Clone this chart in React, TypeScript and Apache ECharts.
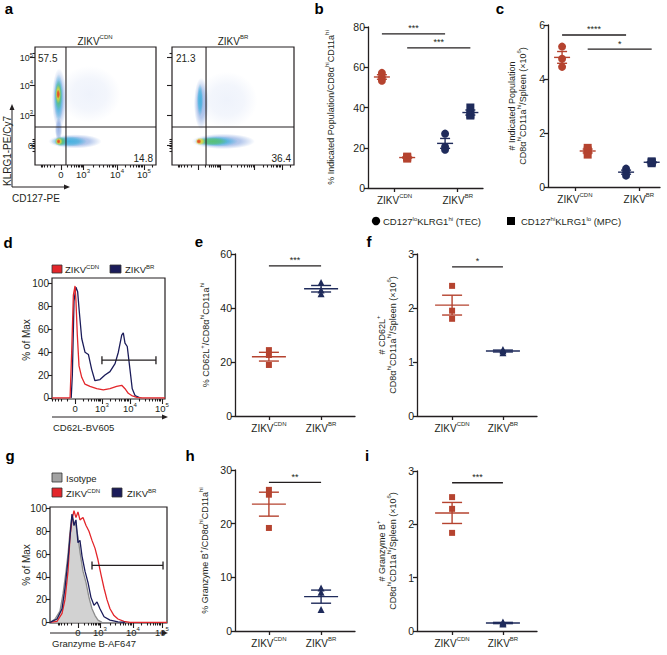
import React, { useEffect, useRef } from "react";
import * as echarts from "echarts";

const FONT = "'Liberation Sans', Arial, Helvetica, sans-serif";
const INK = "#231f20";
const DOT_RED = "#b5432f";
const DOT_NAVY = "#1f2b5b";
const HIST_RED = "#e3262b";
const HIST_NAVY = "#1b1c5a";
const ISO_FILL = "#d2d2d2";
const ISO_LINE = "#8c8c8c";

// ---------------- DATA ----------------
// Panel a: flow populations in display channels [x, y, xSpread, ySpread, densityLevel]
const aCdnPops = [
  [45, 60, 26, 24, 0],
  [20, 56, 6, 26, 1],
  [19.5, 30, 3, 10, 1],
  [19.5, 57, 4, 20, 2],
  [19.5, 59, 3, 13, 3],
  [19.2, 60, 2.2, 8, 4],
  [19.2, 60, 1.5, 4, 5],
  [33, 20, 22, 6, 1],
  [28, 20, 15, 4.5, 2],
  [21, 20, 5, 4, 3],
  [19.8, 20, 3, 3, 4],
  [19.5, 20, 1.6, 2, 5],
];
const aBrPops = [
  [45, 55, 25, 24, 0],
  [24, 52, 6, 22, 1],
  [23, 55, 2.5, 14, 2],
  [42, 20, 26, 6.5, 1],
  [36, 20, 18, 4.5, 2],
  [33, 20, 13, 3.5, 3],
  [23, 20, 4, 3.2, 4],
  [22, 20, 2, 2, 5],
];
const aQuadCdn = ["57.5", "14.8"];
const aQuadBr = ["21.3", "36.4"];
const aGateCdn = [[25.6, 32.2]];
const aGateBr = [[27.9, 32.2]];
const aXTicks = [21.5, 39.7, 67.8, 90.0];
const aYTicks = [17.0, 42.4, 67.8, 91.5];
const flowTickLabels = ["{n|0}", "{n|10}{s|3}", "{n|10}{s|4}", "{n|10}{s|5}"];

// Panel b (% of CD8a hi CD11a hi)
const bTecCdn = [57.2, 55.0, 53.3];
const bMpcCdn = [15.6, 15.2, 14.6];
const bTecBr = [27.0, 20.5, 19.0];
const bMpcBr = [40.0, 36.5, 36.0];
const bSig = [[0.8, 1.8, 76.6], [1.2, 2.2, 69.6]];
const bSigText = ["***", "***"];

// Panel c (# x10^6)
const cTecCdn = [5.2, 4.75, 4.45];
const cMpcCdn = [1.45, 1.35, 1.2];
const cTecBr = [0.68, 0.55, 0.42];
const cMpcBr = [0.95, 0.92, 0.88];
const cSig = [[0.8, 1.8, 5.63], [1.2, 2.2, 5.11]];
const cSigText = ["****", "*"];

// Panel d histograms [channel, % of max]
const dCdn = [[0, 0], [16, 0], [17.4, 40], [18.9, 90], [20.4, 98], [21.2, 85], [22.4, 55], [23.9, 28], [26.3, 18], [29.2, 12], [33.6, 10], [39.6, 8], [45.4, 7], [51.3, 8], [57.2, 10], [61.7, 11], [64.6, 8], [67.5, 4], [70.5, 2], [75, 0.5], [80, 0], [100, 0]];
const dBr = [[17, 0], [18, 20], [19.5, 85], [21.2, 97], [22.7, 93], [24.2, 75], [26.3, 52], [29.2, 40], [32.2, 38], [35.1, 25], [38, 15], [42.5, 16], [46.9, 20], [51.3, 23], [55.8, 30], [58.7, 40], [61.7, 55], [63.1, 57], [64.6, 48], [66.6, 45], [69, 25], [71, 8], [73.5, 2], [77.9, 0]];
const dGate = [[44.2, 92, 33]];
const dXTicks = [20.4, 44.2, 69.0, 97.3];

// Panel e (% CD62L+)
const eCdn = [24.4, 22.6, 18.9];
const eBr = [49.4, 46.7, 45.3];
const eSig = [[1, 2, 55.6]];
const eSigText = ["***"];

// Panel f (# CD62L+ x10^6)
const fCdn = [2.41, 1.95, 1.8];
const fBr = [1.23, 1.21, 1.17];
const fSig = [[1, 2, 2.76]];
const fSigText = ["*"];

// Panel g histograms
const gIso = [[0, 0], [4.3, 3], [8.5, 10], [11.1, 25], [13.7, 45], [15.4, 60], [17.1, 80], [18.8, 94], [20.5, 88], [22.2, 85], [23.9, 75], [25.6, 62], [28.2, 45], [30.8, 35], [33.3, 22], [35.9, 12], [38.5, 6], [41, 2], [44.4, 0]];
const gBr = [[0, 0], [6, 3], [10.3, 12], [12.8, 30], [15.4, 55], [17.1, 75], [18.8, 95], [20.5, 85], [22.2, 90], [23.9, 70], [25.6, 72], [27.4, 58], [29.9, 45], [32.5, 35], [35, 22], [37.6, 15], [40.2, 18], [42.7, 12], [46.2, 5], [51.3, 2], [58.1, 0.5], [64, 0]];
const gCdn = [[0, 0], [6, 1], [10.3, 8], [12.8, 20], [15.4, 45], [17.1, 75], [18.8, 90], [20.5, 98], [22.2, 92], [23.9, 97], [25.6, 90], [28.2, 92], [30.8, 85], [33.3, 80], [35.9, 72], [38.5, 65], [41, 55], [43.6, 42], [46.2, 30], [48.7, 20], [51.3, 12], [54.7, 6], [58.1, 3], [63.2, 1], [68.4, 0], [100, 0]];
const gGate = [[35.9, 96.6, 50]];
const gXTicks = [23.9, 42.7, 70.9, 95.7];

// Panel h (% Granzyme B+)
const hCdn = [26.3, 25.4, 19.2];
const hBr = [8.0, 7.2, 4.0];
const hSig = [[1, 2, 27.7]];
const hSigText = ["**"];

// Panel i (# Granzyme B+ x10^6)
const iCdn = [2.51, 2.29, 1.84];
const iBr = [0.17, 0.15, 0.13];
const iSig = [[1, 2, 2.78]];
const iSigText = ["***"];

const groupLabels = ["{n|ZIKV}{s|CDN}", "{n|ZIKV}{s|BR}"];

// ---------------- LAYOUT ----------------
const BOX: Record<string, number[]> = {
  a1: [35, 47, 121, 118],
  a2: [172, 47, 122, 118],
  b: [368, 27, 115, 161],
  c: [548, 25, 112, 162],
  d: [52, 278, 113, 121],
  e: [235, 254, 120, 162],
  f: [417, 254, 120, 162],
  g: [50, 507, 117, 116],
  h: [235, 470, 120, 161],
  i: [417, 471, 120, 160],
};
const GRID_ORDER = ["a1", "a2", "b", "c", "d", "e", "f", "g", "h", "i"];
const FLOW = ["a1", "a2", "d", "g"];

function rich(fs: number, color = INK) {
  const lh = Math.round(fs * 1.2);
  return {
    n: { fontSize: fs, fontFamily: FONT, color, fill: color, verticalAlign: "bottom", lineHeight: lh },
    s: { fontSize: Math.max(5, Math.round(fs * 0.62)), fontFamily: FONT, color, fill: color, verticalAlign: "top", lineHeight: lh },
  };
}

const mean = (a: number[]) => a.reduce((s, v) => s + v, 0) / a.length;
const sem = (a: number[]) => {
  const m = mean(a);
  const sd = Math.sqrt(a.reduce((s, v) => s + (v - m) * (v - m), 0) / (a.length - 1));
  return sd / Math.sqrt(a.length);
};

function minorTicks(major: number[], lo: number, hi: number) {
  const out: number[] = [];
  const d0 = major[1] - major[0];
  [0.3, 0.5, 0.64, 0.75, 0.84, 0.9].forEach((f) => {
    const v = major[0] - d0 * f;
    if (v > lo) out.push(v);
  });
  for (let i = 0; i < major.length; i++) {
    const a = major[i];
    const b = i + 1 < major.length ? major[i + 1] : major[i] + (major[i] - major[i - 1]);
    for (let k = 2; k <= 9; k++) {
      const v = a + (b - a) * Math.log10(k);
      if (v < hi && v > lo) out.push(v);
    }
  }
  return out;
}

function buildOption() {
  const grid = GRID_ORDER.map((k) => {
    const b = BOX[k];
    return {
      left: b[0], top: b[1], width: b[2], height: b[3],
      show: FLOW.includes(k), borderColor: INK, borderWidth: 1.2, backgroundColor: "transparent",
    };
  });
  const gi = (k: string) => GRID_ORDER.indexOf(k);
  const xAxis: any[] = [];
  const yAxis: any[] = [];
  const series: any[] = [];
  const tickLine = { color: INK, width: 1.1 };

  function flowX(k: string, ticks: number[], minor: number[], labels: boolean) {
    const idx = xAxis.length;
    xAxis.push({
      type: "value", gridIndex: gi(k), min: 0, max: 100, position: "bottom",
      axisLine: { show: false, onZero: false }, splitLine: { show: false },
      axisTick: { show: true, length: 5, customValues: ticks, lineStyle: tickLine },
      axisLabel: {
        show: labels, customValues: ticks, margin: 3,
        formatter: (v: number) => flowTickLabels[ticks.findIndex((t) => Math.abs(t - v) < 1e-6)] ?? "",
        rich: rich(9.5),
      },
    });
    xAxis.push({
      type: "value", gridIndex: gi(k), min: 0, max: 100, position: "bottom",
      axisLine: { show: false, onZero: false }, splitLine: { show: false },
      axisTick: { show: true, length: 2.5, customValues: minor, lineStyle: tickLine },
      axisLabel: { show: false },
    });
    return idx;
  }
  function flowYa(k: string, labels: boolean) {
    const idx = yAxis.length;
    yAxis.push({
      type: "value", gridIndex: gi(k), min: 0, max: 100, position: "left",
      axisLine: { show: false, onZero: false }, splitLine: { show: false },
      axisTick: { show: true, length: 5, customValues: aYTicks, lineStyle: tickLine },
      axisLabel: {
        show: labels, customValues: aYTicks, margin: 2,
        formatter: (v: number) => flowTickLabels[aYTicks.findIndex((t) => Math.abs(t - v) < 1e-6)] ?? "",
        rich: rich(9),
      },
    });
    const z = aYTicks[0];
    yAxis.push({
      type: "value", gridIndex: gi(k), min: 0, max: 100, position: "left",
      axisLine: { show: false, onZero: false }, splitLine: { show: false },
      axisTick: { show: true, length: 2.5, customValues: [z - 5, z - 3, z - 1.5, z + 1.5, z + 3, z + 5, aYTicks[3] + 3], lineStyle: tickLine },
      axisLabel: { show: false },
    });
    return idx;
  }
  function histY(k: string, min: number, max: number) {
    const idx = yAxis.length;
    yAxis.push({
      type: "value", gridIndex: gi(k), min, max, position: "left",
      axisLine: { show: false, onZero: false }, splitLine: { show: false },
      axisTick: { show: true, length: 4, customValues: [0, 20, 40, 60, 80, 100], lineStyle: tickLine },
      axisLabel: { customValues: [0, 20, 40, 60, 80, 100], margin: 3, fontSize: 10, color: INK, fontFamily: FONT },
    });
    return idx;
  }

  const palette = [
    [90, 130, 215, 0.1],
    [60, 110, 205, 0.5],
    [40, 175, 220, 0.75],
    [90, 195, 100, 0.85],
    [240, 215, 50, 0.95],
    [228, 72, 40, 1],
  ];
  const blobFill = (lvl: number) => {
    const [r, g, b, a] = palette[lvl];
    return new echarts.graphic.RadialGradient(0.5, 0.5, 0.5, [
      { offset: 0, color: `rgba(${r},${g},${b},${a})` },
      { offset: 0.55, color: `rgba(${r},${g},${b},${a * 0.75})` },
      { offset: 1, color: `rgba(${r},${g},${b},0)` },
    ]);
  };
  function flowPanel(k: string, pops: number[][], gate: number[][], labels: boolean) {
    const xi = flowX(k, aXTicks, minorTicks(aXTicks, 0, 100), labels);
    const yi = flowYa(k, labels);
    series.push({
      type: "custom", xAxisIndex: xi, yAxisIndex: yi, clip: true, z: 2,
      encode: { x: 0, y: 1 }, data: pops,
      renderItem: (_p: any, api: any) => {
        const c = api.coord([api.value(0), api.value(1)]);
        const s = api.size([api.value(2), api.value(3)]);
        return { type: "ellipse", shape: { cx: c[0], cy: c[1], rx: s[0], ry: s[1] }, style: { fill: blobFill(api.value(4)) } };
      },
    });
    series.push({
      type: "custom", xAxisIndex: xi, yAxisIndex: yi, z: 3,
      encode: { x: 0, y: 1 }, data: gate,
      renderItem: (p: any, api: any) => {
        const c = api.coord([api.value(0), api.value(1)]);
        const cs = p.coordSys;
        const st = { stroke: INK, lineWidth: 1.1 };
        return {
          type: "group", children: [
            { type: "line", shape: { x1: c[0], y1: cs.y, x2: c[0], y2: cs.y + cs.height }, style: st },
            { type: "line", shape: { x1: cs.x, y1: c[1], x2: cs.x + cs.width, y2: c[1] }, style: st },
          ],
        };
      },
    });
  }
  flowPanel("a1", aCdnPops, aGateCdn, true);
  flowPanel("a2", aBrPops, aGateBr, false);

  function gateBar(xi: number, yi: number, gate: number[][]) {
    series.push({
      type: "custom", xAxisIndex: xi, yAxisIndex: yi, z: 5,
      encode: { x: [0, 1], y: 2 }, data: gate,
      renderItem: (_p: any, api: any) => {
        const a = api.coord([api.value(0), api.value(2)]);
        const b = api.coord([api.value(1), api.value(2)]);
        const st = { stroke: INK, lineWidth: 1.3 };
        return {
          type: "group", children: [
            { type: "line", shape: { x1: a[0], y1: a[1], x2: b[0], y2: b[1] }, style: st },
            { type: "line", shape: { x1: a[0], y1: a[1] - 4, x2: a[0], y2: a[1] + 4 }, style: st },
            { type: "line", shape: { x1: b[0], y1: b[1] - 4, x2: b[0], y2: b[1] + 4 }, style: st },
          ],
        };
      },
    });
  }
  const histLine = (xi: number, yi: number, data: number[][], color: string, extra: any = {}) =>
    series.push({
      type: "line", xAxisIndex: xi, yAxisIndex: yi, data, showSymbol: false, symbol: "none",
      lineStyle: { color, width: 1.3 }, itemStyle: { color }, clip: true, z: 3, ...extra,
    });

  // d
  {
    const xi = flowX("d", dXTicks, minorTicks(dXTicks, 0, 100), true);
    const yi = histY("d", -1, 105);
    histLine(xi, yi, dBr, HIST_NAVY);
    histLine(xi, yi, dCdn, HIST_RED);
    gateBar(xi, yi, dGate);
  }
  // g
  {
    const xi = flowX("g", gXTicks, minorTicks(gXTicks, 0, 100), true);
    const yi = histY("g", -0.5, 101.3);
    histLine(xi, yi, gIso, ISO_LINE, { areaStyle: { color: ISO_FILL, opacity: 1 }, z: 2 });
    histLine(xi, yi, gCdn, HIST_RED);
    histLine(xi, yi, gBr, HIST_NAVY);
    gateBar(xi, yi, gGate);
  }

  // dot plots
  type Grp = { x: number; vals: number[]; color: string; symbol: string; size: number };
  function dotPanel(
    k: string, xmin: number, xmax: number, ymax: number, interval: number,
    name: string, nameGap: number, grps: Grp[], meanHW: number, capHW: number,
    sig: number[][], sigText: string[],
  ) {
    const xi = xAxis.length;
    xAxis.push({
      type: "value", gridIndex: gi(k), min: xmin, max: xmax,
      axisLine: { show: true, onZero: false, lineStyle: { color: INK, width: 1.3 } },
      splitLine: { show: false },
      axisTick: { show: true, length: 4, customValues: [1, 2], lineStyle: { color: INK, width: 1.3 } },
      axisLabel: {
        customValues: [1, 2], margin: 5,
        formatter: (v: number) => (Math.abs(v - 1) < 1e-6 ? groupLabels[0] : groupLabels[1]),
        rich: rich(10),
      },
    });
    const yi = yAxis.length;
    yAxis.push({
      type: "value", gridIndex: gi(k), min: 0, max: ymax, interval,
      axisLine: { show: true, onZero: false, lineStyle: { color: INK, width: 1.3 } },
      splitLine: { show: false },
      axisTick: { show: true, length: 4, lineStyle: { color: INK, width: 1.3 } },
      axisLabel: { fontSize: 10.5, color: INK, fontFamily: FONT, margin: 3 },
      name, nameLocation: "middle", nameRotate: 90, nameGap,
      nameTextStyle: { rich: rich(9), fontSize: 9, fontFamily: FONT, color: INK, lineHeight: 12, align: "center" },
    });
    grps.forEach((g) =>
      series.push({
        type: "scatter", xAxisIndex: xi, yAxisIndex: yi, symbol: g.symbol, symbolSize: g.size,
        itemStyle: { color: g.color, opacity: 1 }, data: g.vals.map((v) => [g.x, v]), z: 3,
      }),
    );
    series.push({
      type: "custom", xAxisIndex: xi, yAxisIndex: yi, z: 4, encode: { x: 0, y: 1 },
      data: grps.map((g) => [g.x, mean(g.vals), sem(g.vals)]),
      renderItem: (p: any, api: any) => {
        const x = api.value(0), m = api.value(1), s = api.value(2);
        const col = grps[p.dataIndex].color;
        const pm = api.coord([x, m]);
        const pu = api.coord([x, m + s]);
        const pl = api.coord([x, m - s]);
        const st = { stroke: col, lineWidth: 1.4 };
        return {
          type: "group", children: [
            { type: "line", shape: { x1: pm[0] - meanHW, y1: pm[1], x2: pm[0] + meanHW, y2: pm[1] }, style: st },
            { type: "line", shape: { x1: pu[0], y1: pu[1], x2: pl[0], y2: pl[1] }, style: st },
            { type: "line", shape: { x1: pu[0] - capHW, y1: pu[1], x2: pu[0] + capHW, y2: pu[1] }, style: st },
            { type: "line", shape: { x1: pl[0] - capHW, y1: pl[1], x2: pl[0] + capHW, y2: pl[1] }, style: st },
          ],
        };
      },
    });
    series.push({
      type: "custom", xAxisIndex: xi, yAxisIndex: yi, z: 4, encode: { x: [0, 1], y: 2 }, data: sig,
      renderItem: (p: any, api: any) => {
        const a = api.coord([api.value(0), api.value(2)]);
        const b = api.coord([api.value(1), api.value(2)]);
        return {
          type: "group", children: [
            { type: "line", shape: { x1: a[0], y1: a[1], x2: b[0], y2: b[1] }, style: { stroke: INK, lineWidth: 1.3 } },
            {
              type: "text", x: (a[0] + b[0]) / 2, y: a[1] - 1,
              style: { text: sigText[p.dataIndex], fontSize: 9, fontFamily: FONT, fill: INK, align: "center", verticalAlign: "bottom" },
            },
          ],
        };
      },
    });
  }

  const OFF = 0.2;
  dotPanel("b", 0.58, 2.4, 80, 20, "{n|% Indicated Population/CD8α}{s|hi}{n|CD11a}{s|hi}", 33,
    [
      { x: 1 - OFF, vals: bTecCdn, color: DOT_RED, symbol: "circle", size: 8 },
      { x: 1 + OFF, vals: bMpcCdn, color: DOT_RED, symbol: "rect", size: 8 },
      { x: 2 - OFF, vals: bTecBr, color: DOT_NAVY, symbol: "circle", size: 8 },
      { x: 2 + OFF, vals: bMpcBr, color: DOT_NAVY, symbol: "rect", size: 8 },
    ], 8, 5, bSig, bSigText);
  dotPanel("c", 0.58, 2.33, 6, 2, "{n|# Indicated Population}\n{n|CD8α}{s|hi}{n|CD11a}{s|hi}{n|/Spleen (×10}{s|6}{n|)}", 21,
    [
      { x: 1 - OFF, vals: cTecCdn, color: DOT_RED, symbol: "circle", size: 8 },
      { x: 1 + OFF, vals: cMpcCdn, color: DOT_RED, symbol: "rect", size: 8 },
      { x: 2 - OFF, vals: cTecBr, color: DOT_NAVY, symbol: "circle", size: 8 },
      { x: 2 + OFF, vals: cMpcBr, color: DOT_NAVY, symbol: "rect", size: 8 },
    ], 8, 5, cSig, cSigText);
  dotPanel("e", 0.35, 2.65, 60, 20, "{n|% CD62L}{s|+}{n|/CD8α}{s|hi}{n|CD11a}{s|hi}", 25,
    [
      { x: 1, vals: eCdn, color: DOT_RED, symbol: "rect", size: 6 },
      { x: 2, vals: eBr, color: DOT_NAVY, symbol: "triangle", size: 7 },
    ], 17, 10, eSig, eSigText);
  dotPanel("f", 0.31, 2.67, 3, 1, "{n|# CD62L}{s|+}\n{n|CD8α}{s|hi}{n|CD11a}{s|hi}{n|/Spleen (×10}{s|6}{n|)}", 20,
    [
      { x: 1, vals: fCdn, color: DOT_RED, symbol: "rect", size: 6 },
      { x: 2, vals: fBr, color: DOT_NAVY, symbol: "triangle", size: 7 },
    ], 17, 10, fSig, fSigText);
  dotPanel("h", 0.35, 2.65, 30, 10, "{n|% Granzyme B}{s|+}{n|/CD8α}{s|hi}{n|CD11a}{s|hi}", 26,
    [
      { x: 1, vals: hCdn, color: DOT_RED, symbol: "rect", size: 6 },
      { x: 2, vals: hBr, color: DOT_NAVY, symbol: "triangle", size: 7 },
    ], 17, 10, hSig, hSigText);
  dotPanel("i", 0.31, 2.67, 3, 1, "{n|# Granzyme B}{s|+}\n{n|CD8α}{s|hi}{n|CD11a}{s|hi}{n|/Spleen (×10}{s|6}{n|)}", 20,
    [
      { x: 1, vals: iCdn, color: DOT_RED, symbol: "rect", size: 6 },
      { x: 2, vals: iBr, color: DOT_NAVY, symbol: "triangle", size: 7 },
    ], 17, 10, iSig, iSigText);

  // ---------------- GRAPHIC TEXT & DECOR ----------------
  const graphic: any[] = [];
  const T = (x: number, y: number, text: string, fs: number, align = "left", rot = 0) =>
    graphic.push({
      type: "text", x, y, rotation: rot, z: 10,
      style: { text, rich: rich(fs), fontSize: fs, fontFamily: FONT, fill: INK, align, verticalAlign: "middle" },
    });
  const L = (x: number, y: number, t: string) =>
    graphic.push({ type: "text", x, y, z: 10, style: { text: t, fontSize: 15, fontWeight: "bold", fontFamily: FONT, fill: "#000", align: "center", verticalAlign: "middle" } });
  const arrowH = (x1: number, x2: number, y: number) => {
    graphic.push({ type: "line", shape: { x1, y1: y, x2: x2 - 3, y2: y }, style: { stroke: INK, lineWidth: 1 } });
    graphic.push({ type: "polygon", shape: { points: [[x2, y], [x2 - 6, y - 2.5], [x2 - 6, y + 2.5]] }, style: { fill: INK } });
  };
  const arrowV = (x: number, y1: number, y2: number) => {
    graphic.push({ type: "line", shape: { x1: x, y1, x2: x, y2: y2 + 3 }, style: { stroke: INK, lineWidth: 1 } });
    graphic.push({ type: "polygon", shape: { points: [[x, y2], [x - 2.5, y2 + 6], [x + 2.5, y2 + 6]] }, style: { fill: INK } });
  };
  const box = (x: number, y: number, w: number, h: number, fill: string) =>
    graphic.push({ type: "rect", shape: { x, y, width: w, height: h }, style: { fill, stroke: "#333", lineWidth: 0.8 } });

  L(9, 8, "a"); L(319, 8, "b"); L(500, 8, "c");
  L(8, 242, "d"); L(199, 241, "e"); L(369, 241, "f");
  L(10, 455, "g"); L(190, 455, "h"); L(367, 455, "i");

  // panel a
  T(95, 40, groupLabels[0], 10, "center");
  T(233, 40, groupLabels[1], 10, "center");
  T(38, 57, `{n|${aQuadCdn[0]}}`, 10);
  T(153, 157, `{n|${aQuadCdn[1]}}`, 10, "right");
  T(176, 57, `{n|${aQuadBr[0]}}`, 10);
  T(291, 157, `{n|${aQuadBr[1]}}`, 10, "right");
  arrowV(12, 187, 104);
  arrowH(12, 70, 187);
  T(6, 151, "{n|KLRG1-PE/Cy7}", 10, "center", Math.PI / 2);
  T(12, 197, "{n|CD127-PE}", 10);

  // legend b/c
  graphic.push({ type: "circle", shape: { cx: 376, cy: 221, r: 4.2 }, style: { fill: "#000" } });
  T(383, 221, "{n|CD127}{s|lo}{n|KLRG1}{s|hi}{n| (TEC)}", 9.5);
  graphic.push({ type: "rect", shape: { x: 507, y: 217, width: 8, height: 8 }, style: { fill: "#000" } });
  T(521, 221, "{n|CD127}{s|hi}{n|KLRG1}{s|lo}{n| (MPC)}", 9.5);

  // panel d
  box(52, 265, 10, 8, HIST_RED);
  T(65, 269, groupLabels[0], 9.5);
  box(110, 265, 11, 8, HIST_NAVY);
  T(125, 269, groupLabels[1], 9.5);
  T(25, 340, "{n|% of Max}", 10, "center", Math.PI / 2);
  arrowH(52, 168, 417);
  T(53, 427, "{n|CD62L-BV605}", 9.5);

  // panel g
  box(52, 473, 10, 9, "#a3a3a3");
  T(66, 478, "{n|Isotype}", 9.5);
  box(52, 488, 10, 9, HIST_RED);
  T(66, 493, groupLabels[0], 9.5);
  box(112, 488, 10, 9, HIST_NAVY);
  T(127, 493, groupLabels[1], 9.5);
  T(25, 565, "{n|% of Max}", 10, "center", Math.PI / 2);
  arrowH(50, 168, 633);
  T(52, 643, "{n|Granzyme B-AF647}", 9.5);

  return {
    animation: false,
    backgroundColor: "#fff",
    textStyle: { fontFamily: FONT },
    grid, xAxis, yAxis, series, graphic,
  };
}

export default function App() {
  const ref = useRef<HTMLDivElement>(null);
  useEffect(() => {
    document.body.style.margin = "0";
    const chart = echarts.init(ref.current as HTMLDivElement, null, { renderer: "svg" });
    chart.setOption(buildOption() as any);
    return () => chart.dispose();
  }, []);
  return (
    <div
      ref={ref}
      style={{ position: "absolute", left: 0, top: 0, width: 667, height: 655, background: "#fff" }}
    />
  );
}
